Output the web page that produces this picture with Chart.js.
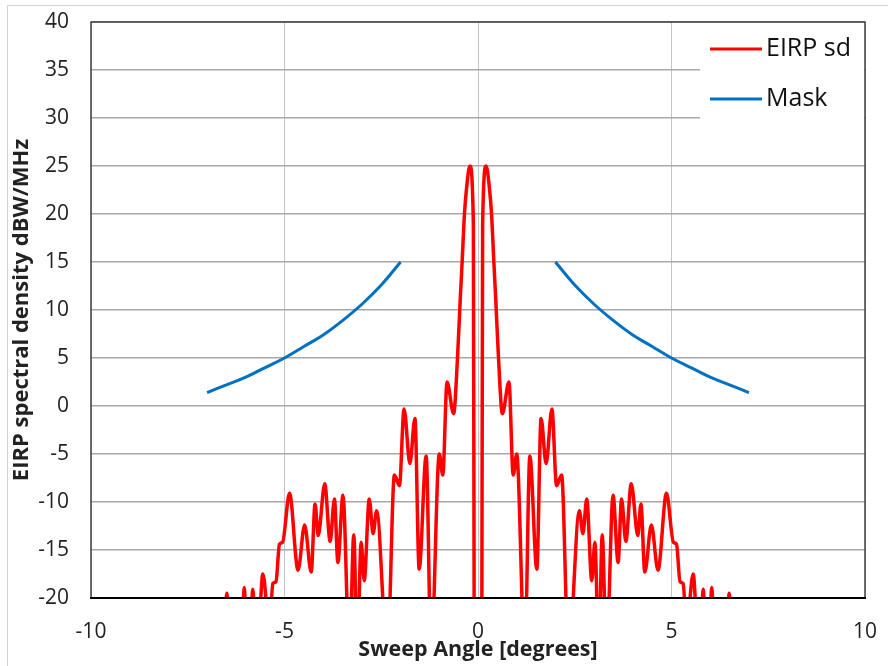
<!DOCTYPE html>
<html>
<head>
<meta charset="utf-8">
<script src="https://cdn.jsdelivr.net/npm/chart.js@4.4.1/dist/chart.umd.min.js"></script>
<style>
  body { margin: 0; background: #ffffff; }
  #grafico { display: block; }
</style>
</head>
<body>
<canvas id="grafico" width="888" height="666"></canvas>
<script>
"use strict";

/********************************************************************
 * Dados
 ********************************************************************/
const eirpAngulos = [
    -7.0, -6.54, -6.49, -6.44, -6.09, -6.04, -5.99, -5.87, -5.82, -5.77,
    -5.67, -5.56, -5.39, -5.30, -5.22, -5.13, -5.05, -4.87, -4.65, -4.48,
    -4.31, -4.21, -4.13, -3.96, -3.82, -3.71, -3.62, -3.49, -3.32, -3.21,
    -3.12, -3.02, -2.94, -2.81, -2.71, -2.62, -2.34, -2.16, -2.03, -1.91,
    -1.76, -1.63, -1.52, -1.34, -1.21, -1.00, -0.91, -0.80, -0.63, -0.53,
    -0.46, -0.41, -0.35, -0.30, -0.21, -0.12, -0.10, 0.00,
    0.10, 0.12, 0.21, 0.30, 0.35, 0.41, 0.46, 0.53, 0.63, 0.80,
    0.91, 1.00, 1.21, 1.34, 1.52, 1.63, 1.76, 1.91, 2.03, 2.16,
    2.34, 2.62, 2.71, 2.81, 2.94, 3.02, 3.12, 3.21, 3.32, 3.49,
    3.62, 3.71, 3.82, 3.96, 4.13, 4.21, 4.31, 4.48, 4.65, 4.87,
    5.05, 5.13, 5.22, 5.30, 5.39, 5.56, 5.67, 5.77, 5.82, 5.87,
    5.99, 6.04, 6.09, 6.44, 6.49, 6.54, 7.0
];

const eirpValores = [
    -30, -22, -19.5, -22, -22, -18.9, -22, -22, -19.1, -22,
    -23, -17.5, -23, -18.5, -18.3, -14.4, -14.2, -9.1, -17.1, -12.4,
    -17.3, -10.2, -13.5, -8.1, -14.1, -9.7, -16.3, -9.3, -26, -13.4,
    -26, -14.2, -18.2, -9.7, -13.3, -10.9, -26, -7.2, -8.3, -0.3,
    -6.0, -1.3, -17, -5.2, -26, -5, -7.2, 2.5, -0.8, 5,
    11, 15, 20, 22.5, 25, 19, -20, -60,
    -20, 19, 25, 22.5, 20, 15, 11, 5, -0.8, 2.5,
    -7.2, -5, -26, -5.2, -17, -1.3, -6.0, -0.3, -8.3, -7.2,
    -26, -10.9, -13.3, -9.7, -18.2, -14.2, -26, -13.4, -26, -9.3,
    -16.3, -9.7, -14.1, -8.1, -13.5, -10.2, -17.3, -12.4, -17.1, -9.1,
    -14.2, -14.4, -18.3, -18.5, -23, -17.5, -23, -22, -19.1, -22,
    -22, -18.9, -22, -22, -19.5, -22, -30
];

const mascaraAngulos = [
    -7.0, -6.5, -6.0, -5.5, -5.0, -4.5, -4.0, -3.5, -3.0, -2.5, -2.0,
    0,
    2.0, 2.5, 3.0, 3.5, 4.0, 4.5, 5.0, 5.5, 6.0, 6.5, 7.0
];

const mascaraValores = [
    1.4, 2.2, 3.0, 4.0, 5.0, 6.2, 7.4, 8.9, 10.6, 12.6, 15.0,
    null,
    15.0, 12.6, 10.6, 8.9, 7.4, 6.2, 5.0, 4.0, 3.0, 2.2, 1.4
];

const legendaNomes = ["EIRP sd", "Mask"];

const eixoX = { min: -10, max: 10, passo: 5, titulo: "Sweep Angle [degrees]" };
const eixoY = { min: -20, max: 40, passo: 5, titulo: "EIRP spectral density dBW/MHz" };

/********************************************************************
 * Monta pontos
 ********************************************************************/
function montarPontos(xs, ys) {

    return xs.map((x, i) => ({ x: x, y: ys[i] }));

}

/********************************************************************
 * Zera o recuo que os rótulos pedem ao layout
 ********************************************************************/
function zerarRecuo(scale) {

    scale.paddingTop = 0;
    scale.paddingBottom = 0;
    scale.paddingLeft = 0;
    scale.paddingRight = 0;

}

/********************************************************************
 * Plugin: moldura e legenda
 ********************************************************************/
const molduraPlugin = {

    id: "moldura",

    beforeDraw(chart) {

        const ctx = chart.ctx;

        ctx.save();
        ctx.strokeStyle = "#d0d0d0";
        ctx.lineWidth = 1;
        ctx.beginPath();
        ctx.moveTo(7.5, 700);
        ctx.lineTo(7.5, 5.5);
        ctx.lineTo(900, 5.5);
        ctx.stroke();
        ctx.restore();

    },

    afterDatasetsDraw(chart) {

        const ctx = chart.ctx;
        const a = chart.chartArea;

        ctx.save();

        // caixa da legenda
        ctx.fillStyle = "#ffffff";
        ctx.fillRect(700, a.top + 1, a.right - 701, 120);

        ctx.font = "25px 'Open Sans'";
        ctx.textBaseline = "middle";
        ctx.textAlign = "left";

        chart.data.datasets.forEach((ds, i) => {

            const y = 49 + i * 50;

            ctx.strokeStyle = ds.borderColor;
            ctx.lineWidth = 3;
            ctx.beginPath();
            ctx.moveTo(710, y);
            ctx.lineTo(762, y);
            ctx.stroke();

            ctx.fillStyle = "#111111";
            ctx.fillText(ds.label, 766, y);

        });

        // moldura da área do gráfico
        ctx.strokeStyle = "#404040";
        ctx.lineWidth = 1.5;
        ctx.beginPath();
        ctx.moveTo(a.left, a.bottom);
        ctx.lineTo(a.left, a.top);
        ctx.lineTo(a.right, a.top);
        ctx.lineTo(a.right, a.bottom);
        ctx.stroke();

        ctx.strokeStyle = "#000000";
        ctx.lineWidth = 2;
        ctx.beginPath();
        ctx.moveTo(a.left - 1, a.bottom);
        ctx.lineTo(a.right + 1, a.bottom);
        ctx.stroke();

        ctx.restore();

    }

};

/********************************************************************
 * Cria gráfico
 ********************************************************************/
function criarGrafico() {

    const canvas = document.getElementById("grafico");

    if (!canvas) return;

    new Chart(canvas, {

        type: "scatter",

        data: {

            datasets: [{

                label: legendaNomes[0],
                data: montarPontos(eirpAngulos, eirpValores),
                showLine: true,
                borderColor: "#ff0000",
                borderWidth: 3.5,
                pointRadius: 0,
                cubicInterpolationMode: "monotone"

            }, {

                label: legendaNomes[1],
                data: montarPontos(mascaraAngulos, mascaraValores),
                showLine: true,
                spanGaps: false,
                borderColor: "#0070c0",
                borderWidth: 3,
                pointRadius: 0,
                tension: 0.4

            }]

        },

        options: {

            responsive: false,
            animation: false,

            layout: {
                padding: { left: 0, top: 22, right: 23, bottom: 0 }
            },

            plugins: {
                legend: { display: false },
                tooltip: { enabled: false }
            },

            scales: {

                x: {
                    type: "linear",
                    min: eixoX.min,
                    max: eixoX.max,
                    border: { display: false },
                    grid: { color: "#c4c4c4", lineWidth: 1, drawTicks: false },
                    ticks: {
                        stepSize: eixoX.passo,
                        padding: 21,
                        color: "#222222",
                        font: { family: "'Open Sans'", size: 21 }
                    },
                    title: {
                        display: true,
                        text: eixoX.titulo,
                        color: "#222222",
                        padding: { top: 0, bottom: 3 },
                        font: { family: "'Open Sans'", size: 21.5, weight: "bold" }
                    },
                    afterFit(scale) {
                        scale.height = 68;
                        zerarRecuo(scale);
                    }
                },

                y: {
                    min: eixoY.min,
                    max: eixoY.max,
                    border: { display: false },
                    grid: { color: "#a8a8a8", lineWidth: 1.5, drawTicks: false },
                    ticks: {
                        stepSize: eixoY.passo,
                        padding: 22,
                        color: "#222222",
                        font: { family: "'Open Sans'", size: 21 }
                    },
                    title: {
                        display: true,
                        text: eixoY.titulo,
                        color: "#222222",
                        padding: { top: 9, bottom: 0 },
                        font: { family: "'Open Sans'", size: 22, weight: "bold" }
                    },
                    afterFit(scale) {
                        scale.width = 91;
                        zerarRecuo(scale);
                    }
                }

            }

        },

        plugins: [molduraPlugin]

    });

}

criarGrafico();
</script>
</body>
</html>
